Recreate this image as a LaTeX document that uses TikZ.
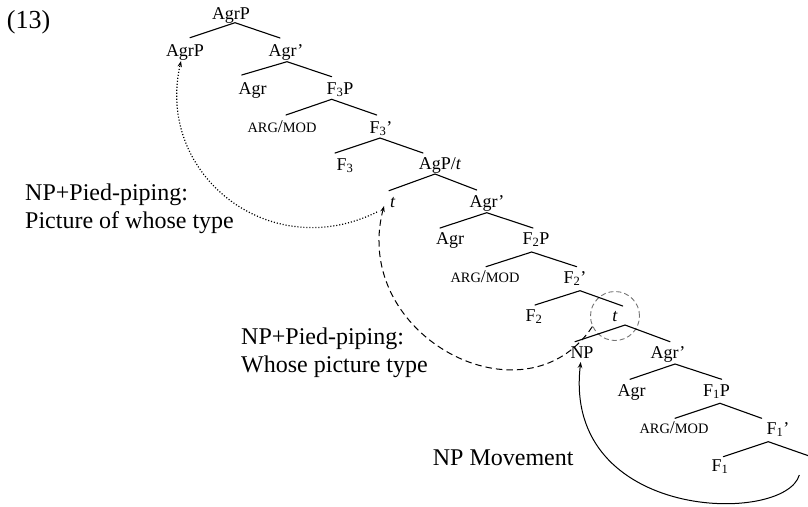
\documentclass[tikz,border=0pt]{standalone}
\usepackage{fontspec}
\setmainfont{Liberation Serif}
\usetikzlibrary{arrows.meta}
% small capitals for the ARG/MOD labels
\newcommand\smc[1]{{\fontsize{14.4}{14.4}\selectfont #1}}
\newcommand\argmod{\smc{ARG}/\smc{MOD}}
\newcommand\sbs[1]{\textsubscript{#1}}
\begin{document}
\begin{tikzpicture}[x=1pt,y=-1pt,
  lab/.style={inner sep=0pt, anchor=base, font=\fontsize{18}{20}\selectfont},
  side/.style={inner sep=0pt, anchor=base west, align=left, font=\fontsize{24}{27.5}\selectfont},
  edge/.style={line width=1.1pt, line cap=round},
  tip/.style={-{Stealth[length=6pt,width=4.5pt]}},
  dotline/.style={tip, line width=1.2pt, dash pattern=on 1.1pt off 1.9pt},
  dashline/.style={tip, line width=1pt, dash pattern=on 6.5pt off 4pt},
  solidline/.style={tip, line width=1pt},
]
\useasboundingbox (0,0) rectangle (808,506);

% example number and side notes (base anchor sits on the last line)
\node[inner sep=0pt, anchor=base west, font=\fontsize{26}{26}\selectfont] (ex) at (6.7,28) {(13)};
\node[side] (note1) at (25,228) {NP+Pied-piping:\\Picture of whose type};
\node[side] (note2) at (241,372) {NP+Pied-piping:\\Whose picture type};
\node[side] (note3) at (432.7,465) {NP Movement};

% tree labels
\node[lab] (n0)  at (231,19)    {AgrP};
\node[lab] (n1)  at (185,56)    {AgrP};
\node[lab] (n2)  at (286,56)    {Agr’};
\node[lab] (n3)  at (252.5,94)  {Agr};
\node[lab] (n4)  at (340,94)    {F\sbs{3}P};
\node[lab] (n5)  at (282,132)   {\argmod};
\node[lab] (n6)  at (381,133)   {F\sbs{3}’};
\node[lab] (n7)  at (345,170)   {F\sbs{3}};
\node[lab] (n8)  at (440,169)   {AgP/\textit{t}};
\node[lab] (n9)  at (392.7,207.5) {\textit{t}};
\node[lab] (n10) at (487,207.5) {Agr’};
\node[lab] (n11) at (450,244)   {Agr};
\node[lab] (n12) at (536,244)   {F\sbs{2}P};
\node[lab] (n13) at (485,282)   {\argmod};
\node[lab] (n14) at (575,283)   {F\sbs{2}’};
\node[lab] (n15) at (534,321)   {F\sbs{2}};
\node[lab] (n16) at (615,321)   {\textit{t}};
\node[lab] (n17) at (582,358)   {NP};
\node[lab] (n18) at (668,358)   {Agr’};
\node[lab] (n19) at (631.5,396) {Agr};
\node[lab] (n20) at (716.5,396) {F\sbs{1}P};
\node[lab] (n21) at (674,433)   {\argmod};
\node[lab] (n22) at (778,434)   {F\sbs{1}’};
\node[lab] (n23) at (720,471)   {F\sbs{1}};
\coordinate (f1r) at (812,457);

% dashed ring round the lower trace
\node[circle, draw=black!55, line width=0.9pt, dash pattern=on 5pt off 3pt,
      minimum size=49pt, inner sep=0pt] (ring) at (615,316) {};

% branches
\draw[edge] ([shift={(5,-18.3)}]n1.base) -- ([shift={(4,3.7)}]n0.base) -- ([shift={(-6,-18)}]n2.base);
\draw[edge] ([shift={(-10.8,-19)}]n3.base) -- ([shift={(1,5.7)}]n2.base) -- ([shift={(-8.3,-17.3)}]n4.base);
\draw[edge] ([shift={(4,-17)}]n5.base) -- ([shift={(-8.3,5.3)}]n4.base) -- ([shift={(-4.3,-18)}]n6.base);
\draw[edge] ([shift={(-10,-17)}]n7.base) -- ([shift={(-1,5)}]n6.base) -- ([shift={(-17,-16)}]n8.base);
\draw[edge] ([shift={(-3.7,-16.8)}]n9.base) -- ([shift={(-5,5)}]n8.base) -- ([shift={(-10.3,-17.5)}]n10.base);
\draw[edge] ([shift={(-10,-16)}]n11.base) -- ([shift={(-0.3,5.2)}]n10.base) -- ([shift={(-3,-16)}]n12.base);
\draw[edge] ([shift={(1,-15.3)}]n13.base) -- ([shift={(-4.3,8)}]n12.base) -- ([shift={(1.7,-16.3)}]n14.base);
\draw[edge] ([shift={(1,-16)}]n15.base) -- ([shift={(5,7.7)}]n14.base) -- ([shift={(7.7,-15)}]n16.base);
\draw[edge] ([shift={(-7,-16.3)}]n17.base) -- ([shift={(10,4)}]n16.base) -- ([shift={(2,-16.3)}]n18.base);
\draw[edge] ([shift={(-1.5,-16.7)}]n19.base) -- ([shift={(7,6)}]n18.base) -- ([shift={(5.2,-16.7)}]n20.base);
\draw[edge] ([shift={(1,-14.7)}]n21.base) -- ([shift={(3.5,7.3)}]n20.base) -- ([shift={(-16.3,-15.7)}]n22.base);
\draw[edge] ([shift={(3.3,-14.3)}]n23.base) -- ([shift={(-9.7,7.7)}]n22.base) -- (f1r);

% movement arrows
\draw[dotline] ([shift={(-15.7,4.5)}]n9.base) .. controls (270,265) and (155,175) .. ([shift={(-4,5)}]n1.base);
\draw[dashline] (ring.205) .. controls (525,428) and (350,336) .. ([shift={(-8.7,-1.5)}]n9.base);
\draw[solidline] ([shift={(21.3,41)}]n22.base) .. controls (785,525) and (562,522) .. ([shift={(-1.3,4)}]n17.base);
\end{tikzpicture}
\end{document}
